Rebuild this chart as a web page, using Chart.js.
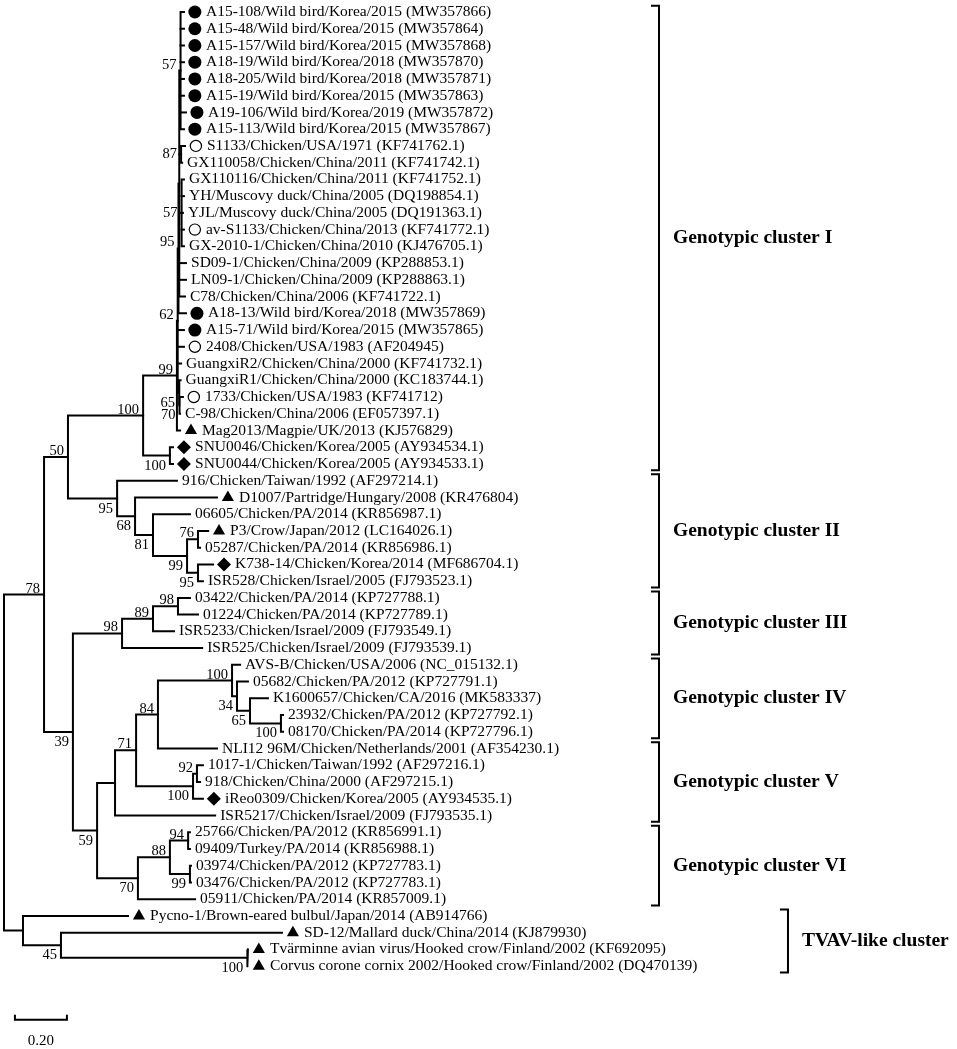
<!DOCTYPE html>
<html>
<head>
<meta charset="utf-8">
<title>Phylogenetic tree</title>
<script src="https://cdn.jsdelivr.net/npm/chart.js@4.4.1/dist/chart.umd.min.js"></script>
<style>
  html, body { margin: 0; padding: 0; background: #fff; }
  #wrap { width: 957px; height: 1049px; }
</style>
</head>
<body>
<div id="wrap"><canvas id="tree" width="957" height="1049"></canvas></div>
<script>
// taxa, top to bottom (row = index)
const taxa = [
  "A15-108/Wild bird/Korea/2015 (MW357866)",
  "A15-48/Wild bird/Korea/2015 (MW357864)",
  "A15-157/Wild bird/Korea/2015 (MW357868)",
  "A18-19/Wild bird/Korea/2018 (MW357870)",
  "A18-205/Wild bird/Korea/2018 (MW357871)",
  "A15-19/Wild bird/Korea/2015 (MW357863)",
  "A19-106/Wild bird/Korea/2019 (MW357872)",
  "A15-113/Wild bird/Korea/2015 (MW357867)",
  "S1133/Chicken/USA/1971 (KF741762.1)",
  "GX110058/Chicken/China/2011 (KF741742.1)",
  "GX110116/Chicken/China/2011 (KF741752.1)",
  "YH/Muscovy duck/China/2005 (DQ198854.1)",
  "YJL/Muscovy duck/China/2005 (DQ191363.1)",
  "av-S1133/Chicken/China/2013 (KF741772.1)",
  "GX-2010-1/Chicken/China/2010 (KJ476705.1)",
  "SD09-1/Chicken/China/2009 (KP288853.1)",
  "LN09-1/Chicken/China/2009 (KP288863.1)",
  "C78/Chicken/China/2006 (KF741722.1)",
  "A18-13/Wild bird/Korea/2018 (MW357869)",
  "A15-71/Wild bird/Korea/2015 (MW357865)",
  "2408/Chicken/USA/1983 (AF204945)",
  "GuangxiR2/Chicken/China/2000 (KF741732.1)",
  "GuangxiR1/Chicken/China/2000 (KC183744.1)",
  "1733/Chicken/USA/1983 (KF741712)",
  "C-98/Chicken/China/2006 (EF057397.1)",
  "Mag2013/Magpie/UK/2013 (KJ576829)",
  "SNU0046/Chicken/Korea/2005 (AY934534.1)",
  "SNU0044/Chicken/Korea/2005 (AY934533.1)",
  "916/Chicken/Taiwan/1992 (AF297214.1)",
  "D1007/Partridge/Hungary/2008 (KR476804)",
  "06605/Chicken/PA/2014 (KR856987.1)",
  "P3/Crow/Japan/2012 (LC164026.1)",
  "05287/Chicken/PA/2014 (KR856986.1)",
  "K738-14/Chicken/Korea/2014 (MF686704.1)",
  "ISR528/Chicken/Israel/2005 (FJ793523.1)",
  "03422/Chicken/PA/2014 (KP727788.1)",
  "01224/Chicken/PA/2014 (KP727789.1)",
  "ISR5233/Chicken/Israel/2009 (FJ793549.1)",
  "ISR525/Chicken/Israel/2009 (FJ793539.1)",
  "AVS-B/Chicken/USA/2006 (NC_015132.1)",
  "05682/Chicken/PA/2012 (KP727791.1)",
  "K1600657/Chicken/CA/2016 (MK583337)",
  "23932/Chicken/PA/2012 (KP727792.1)",
  "08170/Chicken/PA/2014 (KP727796.1)",
  "NLI12 96M/Chicken/Netherlands/2001 (AF354230.1)",
  "1017-1/Chicken/Taiwan/1992 (AF297216.1)",
  "918/Chicken/China/2000 (AF297215.1)",
  "iReo0309/Chicken/Korea/2005 (AY934535.1)",
  "ISR5217/Chicken/Israel/2009 (FJ793535.1)",
  "25766/Chicken/PA/2012 (KR856991.1)",
  "09409/Turkey/PA/2014 (KR856988.1)",
  "03974/Chicken/PA/2012 (KP727783.1)",
  "03476/Chicken/PA/2012 (KP727783.1)",
  "05911/Chicken/PA/2014 (KR857009.1)",
  "Pycno-1/Brown-eared bulbul/Japan/2014 (AB914766)",
  "SD-12/Mallard duck/China/2014 (KJ879930)",
  "Tvärminne avian virus/Hooked crow/Finland/2002 (KF692095)",
  "Corvus corone cornix 2002/Hooked crow/Finland/2002 (DQ470139)"
];

// symbol in front of each taxon: dot = wild bird Korea, ring = vaccine-like, tri, dia
const taxonMarker = [
  "dot", "dot", "dot", "dot", "dot", "dot", "dot", "dot", "ring", "",
  "", "", "", "ring", "", "", "", "", "dot", "dot",
  "ring", "", "", "ring", "", "tri", "dia", "dia", "", "tri",
  "", "tri", "", "dia", "", "", "", "", "", "",
  "", "", "", "", "", "", "", "dia", "", "",
  "", "", "", "", "tri", "tri", "tri", "tri"
];

// tip distance from the root (substitutions/site)
const tipDepth = [
  0.692, 0.692, 0.692, 0.692, 0.692, 0.692, 0.700, 0.692, 0.696, 0.685,
  0.692, 0.692, 0.688, 0.692, 0.692, 0.700, 0.700, 0.696, 0.700, 0.692,
  0.692, 0.681, 0.679, 0.688, 0.677, 0.677, 0.650, 0.650, 0.665, 0.819,
  0.715, 0.785, 0.754, 0.804, 0.765, 0.715, 0.746, 0.654, 0.762, 0.908,
  0.938, 1.015, 1.073, 1.073, 0.819, 0.765, 0.754, 0.765, 0.812, 0.715,
  0.715, 0.719, 0.719, 0.735, 0.477, 1.069, 0.938, 0.938
];

// internal nodes
const nodeNames = [
  "root", "n78", "n50", "n100a", "n99I", "n62", "n95I", "nB", "n57a", "n87",
  "n57b", "n65", "n70", "nSNU", "n95II", "n68", "n81", "n99II", "n76", "n95c",
  "n39", "n98III", "n89", "n98b", "n59", "nU", "n71", "n84", "n100IV", "n34",
  "n65IV", "n100x", "n100V", "n92", "n70VI", "n88", "n94", "n99VI", "nTVAV", "n45",
  "n100T"
];
const nodeDepth = [
  0, 0.154, 0.246, 0.535, 0.665, 0.668, 0.671, 0.674, 0.679, 0.681,
  0.683, 0.673, 0.675, 0.638, 0.435, 0.504, 0.573, 0.704, 0.746, 0.746,
  0.265, 0.454, 0.573, 0.669, 0.358, 0.427, 0.508, 0.592, 0.877, 0.896,
  0.946, 1.065, 0.727, 0.742, 0.515, 0.638, 0.708, 0.715, 0.073, 0.219,
  0.935
];
const nodeSupport = [
  null, 78, 50, 100, 99, 62, 95, null, 57, 87,
  57, 65, 70, 100, 95, 68, 81, 99, 76, 95,
  39, 98, 89, 98, 59, null, 71, 84, 100, 34,
  65, 100, 100, 92, 70, 88, 94, 99, null, 45,
  100
];
// children: numbers are taxon rows, strings are nodes
const nodeChildren = [
  ["n78", "nTVAV"], ["n50", "n39"], ["n100a", "n95II"], ["n99I", "nSNU"], ["n62", 25],
  ["n95I", 19, 20, 21, "n65"], ["nB", 18], ["n57a", "n87", "n57b", 15, 16, 17],
  [0, 1, 2, 3, 4, 5, 6, 7], [8, 9],
  [10, 11, 12, 13, 14], [22, "n70"], [23, 24], [26, 27], [28, "n68"],
  [29, "n81"], [30, "n99II"], ["n76", "n95c"], [31, 32], [33, 34],
  ["n98III", "n59"], ["n89", 38], ["n98b", 37], [35, 36], ["nU", "n70VI"],
  ["n71", 48], ["n84", "n100V"], ["n100IV", 44], [39, "n34"], [40, "n65IV"],
  [41, "n100x"], [42, 43], ["n92", 47], [45, 46], ["n88", 53],
  ["n94", "n99VI"], [49, 50], [51, 52], [54, "n45"], [55, "n100T"],
  [56, 57]
];

// clusters marked on the right, by first and last taxon row
const clusterNames = [
  "Genotypic cluster I", "Genotypic cluster II", "Genotypic cluster III",
  "Genotypic cluster IV", "Genotypic cluster V", "Genotypic cluster VI",
  "TVAV-like cluster"
];
const clusterFirst = [0, 28, 35, 39, 44, 49, 54];
const clusterLast = [27, 34, 38, 43, 48, 53, 57];

const scaleBarLength = 0.2;

// ---- layout (axis units) ----
const xMin = -0.0154, xMax = 3.665;     // 0.20 substitutions ~ 52 px
const yMin = -0.717, yMax = 61.95;      // one taxon row ~ 16.7 px
const markerGap = 0.042;
const bracketX = 2.519, outgroupBracketX = 3.015, bracketTick = 0.031;
const scaleBarX = 0.042, scaleBarRow = 60.2;

function nodeIndex(id) { return nodeNames.indexOf(id); }
function depthOf(c) { return typeof c === "number" ? tipDepth[c] : nodeDepth[nodeIndex(c)]; }
function rowOf(c) {
  if (typeof c === "number") return c;
  const ch = nodeChildren[nodeIndex(c)];
  return (rowOf(ch[0]) + rowOf(ch[ch.length - 1])) / 2;
}

const lineStyle = {
  showLine: true, borderColor: "#000", borderWidth: 2, pointRadius: 0,
  borderCapStyle: "square", borderJoinStyle: "miter", fill: false, order: 1
};

const datasets = [];

// branches: one elbow per node plus stubs for the middle children
nodeNames.forEach(function (id, k) {
  const ch = nodeChildren[k];
  const d = nodeDepth[k];
  const first = ch[0], last = ch[ch.length - 1];
  datasets.push(Object.assign({}, lineStyle, {
    data: [
      { x: depthOf(first), y: rowOf(first) },
      { x: d, y: rowOf(first) },
      { x: d, y: rowOf(last) },
      { x: depthOf(last), y: rowOf(last) }
    ]
  }));
  ch.slice(1, -1).forEach(function (c) {
    datasets.push(Object.assign({}, lineStyle, {
      data: [{ x: d, y: rowOf(c) }, { x: depthOf(c), y: rowOf(c) }]
    }));
  });
});

// cluster brackets
clusterNames.forEach(function (name, i) {
  const bx = i === clusterNames.length - 1 ? outgroupBracketX : bracketX;
  const top = clusterFirst[i] - 0.38, bottom = clusterLast[i] + 0.38;
  datasets.push(Object.assign({}, lineStyle, {
    borderCapStyle: "butt",
    data: [
      { x: bx - bracketTick, y: top }, { x: bx, y: top },
      { x: bx, y: bottom }, { x: bx - bracketTick, y: bottom }
    ]
  }));
});

// scale bar
datasets.push(Object.assign({}, lineStyle, {
  borderCapStyle: "butt",
  data: [
    { x: scaleBarX, y: scaleBarRow - 0.3 }, { x: scaleBarX, y: scaleBarRow },
    { x: scaleBarX + scaleBarLength, y: scaleBarRow }, { x: scaleBarX + scaleBarLength, y: scaleBarRow - 0.3 }
  ]
}));

// taxon symbols
const markerStyles = {
  dot: { pointStyle: "circle", pointRadius: 6.5, backgroundColor: "#000", borderColor: "#000", borderWidth: 0 },
  ring: { pointStyle: "circle", pointRadius: 5.6, backgroundColor: "#fff", borderColor: "#000", borderWidth: 1.2 },
  tri: { pointStyle: "triangle", pointRadius: 7, backgroundColor: "#000", borderColor: "#000", borderWidth: 0 },
  dia: { pointStyle: "rectRot", pointRadius: 7, backgroundColor: "#000", borderColor: "#000", borderWidth: 0 }
};
Object.keys(markerStyles).forEach(function (m) {
  const pts = [];
  taxa.forEach(function (t, i) {
    if (taxonMarker[i] === m) pts.push({ x: tipDepth[i] + markerGap, y: i });
  });
  datasets.push(Object.assign({ showLine: false, order: 0, data: pts }, markerStyles[m]));
});

const textPlugin = {
  id: "treeText",
  afterDraw: function (chart) {
    const ctx = chart.ctx;
    const xs = chart.scales.x, ys = chart.scales.y;
    ctx.save();
    ctx.fillStyle = "#000";

    // taxon names
    ctx.font = '15.5px "Liberation Serif"';
    ctx.textAlign = "left";
    ctx.textBaseline = "middle";
    taxa.forEach(function (t, i) {
      const gap = taxonMarker[i] ? 22 : 5;
      ctx.fillText(t, xs.getPixelForValue(tipDepth[i]) + gap, ys.getPixelForValue(i));
    });

    // bootstrap values
    ctx.font = '14.5px "Liberation Serif"';
    ctx.textAlign = "right";
    nodeNames.forEach(function (id, k) {
      if (nodeSupport[k] == null) return;
      const sib = nodeChildren.find(function (ch) { return ch.indexOf(id) >= 0; });
      const pos = sib.indexOf(id);
      const px = xs.getPixelForValue(nodeDepth[k]) - 4;
      const py = ys.getPixelForValue(rowOf(id));
      if (pos === 0) {
        ctx.textBaseline = "alphabetic";
        ctx.fillText(String(nodeSupport[k]), px, py - 2);
      } else if (pos === sib.length - 1) {
        ctx.textBaseline = "top";
        ctx.fillText(String(nodeSupport[k]), px, py + 3);
      } else {
        ctx.textBaseline = "middle";
        ctx.fillText(String(nodeSupport[k]), px, py);
      }
    });

    // cluster names
    ctx.font = 'bold 19.5px "Liberation Serif"';
    ctx.textAlign = "left";
    ctx.textBaseline = "middle";
    clusterNames.forEach(function (name, i) {
      const bx = i === clusterNames.length - 1 ? outgroupBracketX : bracketX;
      const mid = (clusterFirst[i] + clusterLast[i]) / 2;
      ctx.fillText(name, xs.getPixelForValue(bx) + 14, ys.getPixelForValue(mid));
    });

    // scale bar label
    ctx.font = '15px "Liberation Serif"';
    ctx.textAlign = "center";
    ctx.fillText(scaleBarLength.toFixed(2), xs.getPixelForValue(scaleBarX + scaleBarLength / 2), ys.getPixelForValue(scaleBarRow + 1.3));
    ctx.restore();
  }
};

new Chart(document.getElementById("tree").getContext("2d"), {
  type: "scatter",
  data: { datasets: datasets },
  options: {
    responsive: false,
    animation: false,
    events: [],
    layout: { padding: 0, autoPadding: false },
    scales: {
      x: { type: "linear", min: xMin, max: xMax, display: false },
      y: { type: "linear", min: yMin, max: yMax, reverse: true, display: false }
    },
    plugins: { legend: { display: false }, tooltip: { enabled: false } }
  },
  plugins: [textPlugin]
});
</script>
</body>
</html>
